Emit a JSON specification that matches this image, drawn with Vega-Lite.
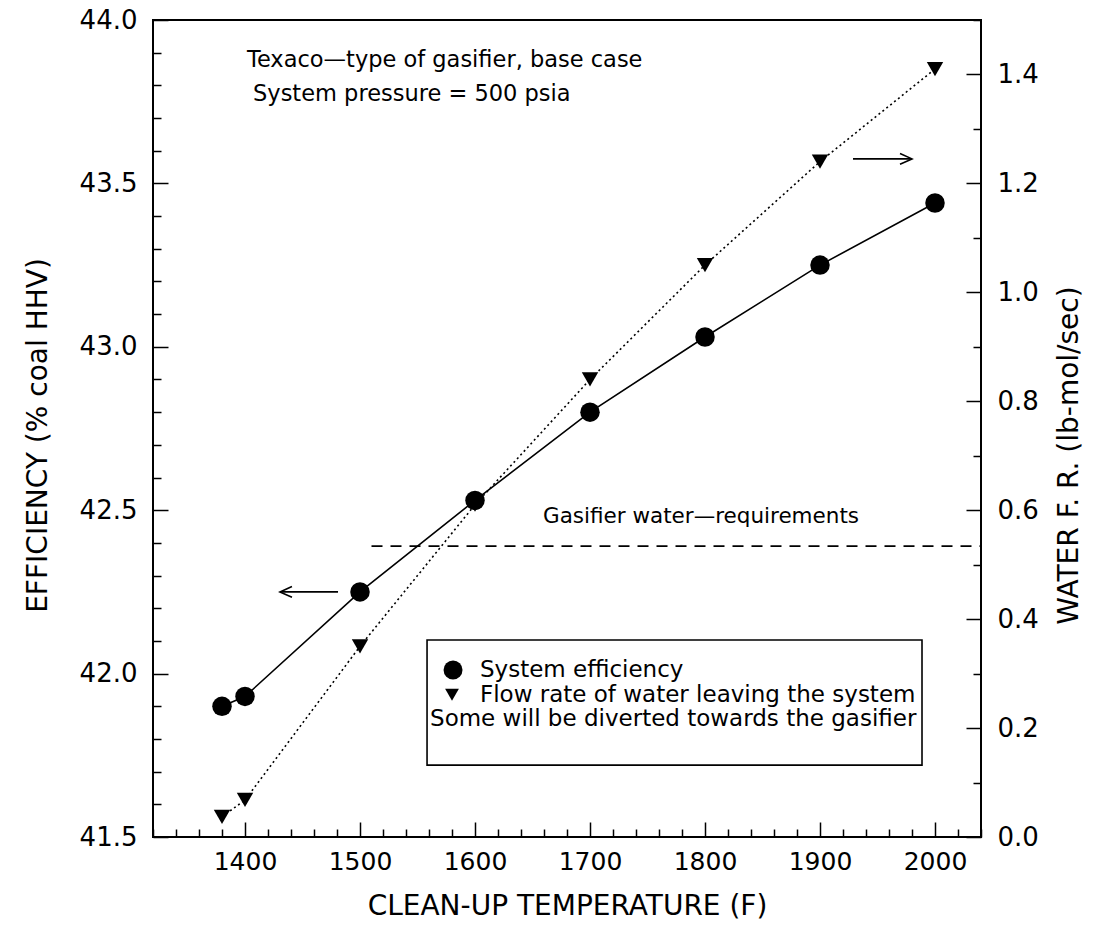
{
  "$schema": "https://vega.github.io/schema/vega-lite/v6.json",
  "autosize": {"type": "none"},
  "width": 828,
  "height": 817,
  "padding": {"left": 153, "top": 20, "right": 118, "bottom": 108},
  "background": "white",
  "view": {"stroke": "black", "strokeWidth": 2},
  "config": {"font": "DejaVu Sans"},
  "datasets": {
    "series": [
      {"temp": 1380, "eff": 41.90, "water": 0.037},
      {"temp": 1400, "eff": 41.93, "water": 0.068},
      {"temp": 1500, "eff": 42.25, "water": 0.35},
      {"temp": 1600, "eff": 42.53, "water": 0.61},
      {"temp": 1700, "eff": 42.80, "water": 0.84},
      {"temp": 1800, "eff": 43.03, "water": 1.05},
      {"temp": 1900, "eff": 43.25, "water": 1.24},
      {"temp": 2000, "eff": 43.44, "water": 1.41}
    ],
    "headings": [
      {"label": "Texaco\u2014type of gasifier, base case", "temp": 1401.7, "eff": 43.878},
      {"label": "System pressure = 500 psia", "temp": 1407, "eff": 43.775}
    ],
    "requirementLabel": [
      {"label": "Gasifier water\u2014requirements", "temp": 1659.1, "eff": 42.48}
    ],
    "legendRows": [
      {"label": "System efficiency", "temp": 1604.3, "eff": 42.011},
      {"label": "Flow rate of water leaving the system", "temp": 1604.3, "eff": 41.935},
      {"label": "Some will be diverted towards the gasifier", "temp": 1560.9, "eff": 41.862}
    ],
    "box": [{"temp": 1558.3, "temp2": 1988.7, "eff": 41.72, "eff2": 42.103}],
    "legendCircle": [{"temp": 1580.9, "eff": 42.011}],
    "legendTri": [{"temp": 1580.0, "eff": 41.935}],
    "requirement": [{"temp": 1510, "temp2": 2040, "eff": 42.39}],
    "arrowLeft": [{"temp": 1430.4, "eff": 42.25}, {"temp": 1480.9, "eff": 42.25}],
    "arrowRight": [{"temp": 1928.7, "eff": 43.575}, {"temp": 1980, "eff": 43.575}]
  },
  "encoding": {
    "x": {
      "field": "temp", "type": "quantitative",
      "scale": {"domain": [1320, 2040], "nice": false, "zero": false},
      "axis": {
        "orient": "bottom",
        "values": [1320,1340,1360,1380,1400,1420,1440,1460,1480,1500,1520,1540,1560,1580,1600,1620,1640,1660,1680,1700,1720,1740,1760,1780,1800,1820,1840,1860,1880,1900,1920,1940,1960,1980,2000,2020,2040],
        "format": "d",
        "labelExpr": "datum.value % 100 === 0 && datum.value > 1320 ? datum.label : ''",
        "tickSize": {"condition": {"test": "datum.value % 100 === 0", "value": -15}, "value": -8},
        "tickColor": "black", "tickWidth": 1.5, "domain": false, "grid": false,
        "labelFont": "DejaVu Sans", "labelFontSize": 25, "labelColor": "black",
        "labelPadding": 27, "labelOverlap": false, "labelFlush": false,
        "title": "CLEAN-UP TEMPERATURE (F)", "titleFont": "DejaVu Sans", "titleFontSize": 28,
        "titleFontWeight": "normal", "titleColor": "black",
        "titleX": 414, "titleY": 69, "titleAlign": "center", "titleBaseline": "middle", "titleAngle": 0
      }
    }
  },
  "resolve": {"scale": {"y": "independent"}},
  "layer": [
    {
      "data": {"name": "series"},
      "mark": {"type": "line", "color": "black", "strokeWidth": 1.6},
      "encoding": {
        "y": {
          "field": "eff", "type": "quantitative",
          "scale": {"domain": [41.5, 44.0], "nice": false, "zero": false},
          "axis": {
            "orient": "left",
            "values": [41.5,41.6,41.7,41.8,41.9,42.0,42.1,42.2,42.3,42.4,42.5,42.6,42.7,42.8,42.9,43.0,43.1,43.2,43.3,43.4,43.5,43.6,43.7,43.8,43.9,44.0],
            "format": ".1f",
            "labelExpr": "abs(datum.value*2 - round(datum.value*2)) < 0.01 ? datum.label : ''",
            "tickSize": {"condition": {"test": "abs(datum.value*2 - round(datum.value*2)) < 0.01", "value": -15}, "value": -8},
            "tickColor": "black", "tickWidth": 1.5, "domain": false, "grid": false,
            "labelFont": "DejaVu Sans", "labelFontSize": 26, "labelColor": "black",
            "labelPadding": 31, "labelOverlap": false, "labelFlush": false,
            "title": "EFFICIENCY (% coal HHV)", "titleFont": "DejaVu Sans", "titleFontSize": 28,
            "titleFontWeight": "normal", "titleColor": "black",
            "titleX": -115, "titleY": 415, "titleAlign": "center", "titleBaseline": "middle", "titleAngle": -90
          }
        }
      }
    },
    {
      "data": {"name": "series"},
      "mark": {"type": "point", "shape": "circle", "filled": true, "color": "black", "size": 380, "opacity": 1},
      "encoding": {
        "y": {"field": "eff", "type": "quantitative", "scale": {"domain": [41.5, 44.0], "nice": false, "zero": false}, "axis": null}
      }
    },
    {
      "data": {"name": "series"},
      "mark": {"type": "line", "color": "black", "strokeWidth": 1.6, "strokeDash": [2, 3]},
      "encoding": {
        "y": {
          "field": "water", "type": "quantitative",
          "scale": {"domain": [0, 1.5], "nice": false, "zero": false},
          "axis": {
            "orient": "right",
            "values": [0,0.1,0.2,0.3,0.4,0.5,0.6,0.7,0.8,0.9,1.0,1.1,1.2,1.3,1.4,1.5],
            "format": ".1f",
            "labelExpr": "abs(datum.value*5 - round(datum.value*5)) < 0.01 && datum.value < 1.45 ? datum.label : ''",
            "tickSize": {"condition": {"test": "abs(datum.value*5 - round(datum.value*5)) < 0.01", "value": -15}, "value": -8},
            "tickColor": "black", "tickWidth": 1.5, "domain": false, "grid": false,
            "labelFont": "DejaVu Sans", "labelFontSize": 26, "labelColor": "black",
            "labelPadding": 31, "labelOverlap": false, "labelFlush": false,
            "title": "WATER F. R. (lb-mol/sec)", "titleFont": "DejaVu Sans", "titleFontSize": 28,
            "titleFontWeight": "normal", "titleColor": "black",
            "titleX": 88, "titleY": 435, "titleAlign": "center", "titleBaseline": "middle", "titleAngle": -90
          }
        }
      }
    },
    {
      "data": {"name": "series"},
      "mark": {"type": "point", "shape": "triangle-down", "filled": true, "color": "black", "size": 270, "opacity": 1},
      "encoding": {
        "y": {"field": "water", "type": "quantitative", "scale": {"domain": [0, 1.5], "nice": false, "zero": false}, "axis": null}
      }
    },
    {
      "data": {"name": "requirement"},
      "mark": {"type": "rule", "color": "black", "strokeWidth": 1.6, "strokeDash": [11, 8]},
      "encoding": {
        "x2": {"field": "temp2"},
        "y": {"field": "eff", "type": "quantitative", "scale": {"domain": [41.5, 44.0], "nice": false, "zero": false}, "axis": null}
      }
    },
    {
      "data": {"name": "box"},
      "mark": {"type": "rect", "fill": "white", "stroke": "black", "strokeWidth": 1.6},
      "encoding": {
        "x2": {"field": "temp2"},
        "y": {"field": "eff", "type": "quantitative", "scale": {"domain": [41.5, 44.0], "nice": false, "zero": false}, "axis": null},
        "y2": {"field": "eff2"}
      }
    },
    {
      "data": {"name": "headings"},
      "mark": {"type": "text", "align": "left", "baseline": "middle", "font": "DejaVu Sans", "fontSize": 22.5, "color": "black"},
      "encoding": {
        "y": {"field": "eff", "type": "quantitative", "scale": {"domain": [41.5, 44.0], "nice": false, "zero": false}, "axis": null},
        "text": {"field": "label"}
      }
    },
    {
      "data": {"name": "requirementLabel"},
      "mark": {"type": "text", "align": "left", "baseline": "middle", "font": "DejaVu Sans", "fontSize": 21.5, "color": "black"},
      "encoding": {
        "y": {"field": "eff", "type": "quantitative", "scale": {"domain": [41.5, 44.0], "nice": false, "zero": false}, "axis": null},
        "text": {"field": "label"}
      }
    },
    {
      "data": {"name": "legendRows"},
      "mark": {"type": "text", "align": "left", "baseline": "middle", "font": "DejaVu Sans", "fontSize": 23, "color": "black"},
      "encoding": {
        "y": {"field": "eff", "type": "quantitative", "scale": {"domain": [41.5, 44.0], "nice": false, "zero": false}, "axis": null},
        "text": {"field": "label"}
      }
    },
    {
      "data": {"name": "legendCircle"},
      "mark": {"type": "point", "shape": "circle", "filled": true, "color": "black", "size": 360, "opacity": 1},
      "encoding": {
        "y": {"field": "eff", "type": "quantitative", "scale": {"domain": [41.5, 44.0], "nice": false, "zero": false}, "axis": null}
      }
    },
    {
      "data": {"name": "legendTri"},
      "mark": {"type": "point", "shape": "triangle-down", "filled": true, "color": "black", "size": 190, "opacity": 1},
      "encoding": {
        "y": {"field": "eff", "type": "quantitative", "scale": {"domain": [41.5, 44.0], "nice": false, "zero": false}, "axis": null}
      }
    },
    {
      "data": {"name": "arrowLeft"},
      "mark": {"type": "line", "color": "black", "strokeWidth": 1.6},
      "encoding": {
        "y": {"field": "eff", "type": "quantitative", "scale": {"domain": [41.5, 44.0], "nice": false, "zero": false}, "axis": null}
      }
    },
    {
      "data": {"name": "arrowLeft"},
      "transform": [{"filter": "datum.temp < 1450"}],
      "mark": {"type": "point", "shape": "M2,-0.9L0,0L2,0.9", "filled": false, "stroke": "black", "strokeWidth": 1.6, "size": 144, "opacity": 1},
      "encoding": {
        "y": {"field": "eff", "type": "quantitative", "scale": {"domain": [41.5, 44.0], "nice": false, "zero": false}, "axis": null}
      }
    },
    {
      "data": {"name": "arrowRight"},
      "mark": {"type": "line", "color": "black", "strokeWidth": 1.6},
      "encoding": {
        "y": {"field": "eff", "type": "quantitative", "scale": {"domain": [41.5, 44.0], "nice": false, "zero": false}, "axis": null}
      }
    },
    {
      "data": {"name": "arrowRight"},
      "transform": [{"filter": "datum.temp > 1950"}],
      "mark": {"type": "point", "shape": "M-2,-0.9L0,0L-2,0.9", "filled": false, "stroke": "black", "strokeWidth": 1.6, "size": 144, "opacity": 1},
      "encoding": {
        "y": {"field": "eff", "type": "quantitative", "scale": {"domain": [41.5, 44.0], "nice": false, "zero": false}, "axis": null}
      }
    }
  ]
}
